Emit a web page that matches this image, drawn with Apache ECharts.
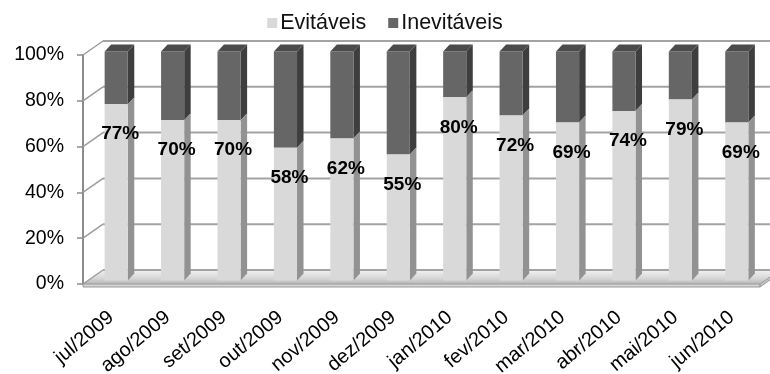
<!DOCTYPE html>
<html>
<head>
<meta charset="utf-8">
<script src="https://cdn.jsdelivr.net/npm/echarts@6/dist/echarts.min.js"></script>
<style>
  html, body { margin: 0; padding: 0; background: #ffffff; }
  #chart { width: 770px; height: 374px; }
</style>
</head>
<body>
<div id="chart"></div>
<script>
// Monthly share of avoidable vs. unavoidable cases (100% stacked)
const months = ['jul/2009', 'ago/2009', 'set/2009', 'out/2009', 'nov/2009', 'dez/2009',
                'jan/2010', 'fev/2010', 'mar/2010', 'abr/2010', 'mai/2010', 'jun/2010'];
const evitaveis = [77, 70, 70, 58, 62, 55, 80, 72, 69, 74, 79, 69];
const inevitaveis = [23, 30, 30, 42, 38, 45, 20, 28, 31, 26, 21, 31];
const yTicks = [0, 20, 40, 60, 80, 100];

// Pseudo-3D geometry (pixels)
const WALL_DX = 20, WALL_DY = -14;   // depth of the floor / back wall
const BAR_OX = 5, BAR_OY = -3.5;     // bar front face offset from the front plane
const BAR_DX = 6.5, BAR_DY = -7;     // bar depth
const BAR_RATIO = 0.41;              // bar width as share of category band

const FONT = '"Liberation Sans", Arial, sans-serif';

const chart = echarts.init(document.getElementById('chart'), null, { renderer: 'canvas' });

function wallItem(params, api) {
  const cs = params.coordSys;
  const v = api.value(1);
  const y = api.coord([0, v])[1];
  const left = cs.x, right = cs.x + cs.width;
  const children = [];
  if (v === 0) {
    // floor slab
    children.push({
      type: 'polygon',
      shape: { points: [[left, y], [right, y], [right + WALL_DX, y + WALL_DY], [left + WALL_DX, y + WALL_DY]] },
      style: {
        fill: new echarts.graphic.LinearGradient(0, 0, 0, 1, [
          { offset: 0, color: '#f2f2f2' },
          { offset: 0.6, color: '#d6d6d6' },
          { offset: 1, color: '#b8b8b8' }
        ])
      }
    });
    children.push({
      type: 'rect',
      shape: { x: left, y: y, width: right - left, height: 3 },
      style: { fill: '#d4d4d4', stroke: '#9a9a9a', lineWidth: 1 }
    });
    children.push({
      type: 'polygon',
      shape: { points: [[right, y], [right + WALL_DX, y + WALL_DY], [right + WALL_DX, y + WALL_DY + 3], [right, y + 3]] },
      style: { fill: '#c4c4c4', stroke: '#9a9a9a', lineWidth: 1 }
    });
  }
  children.push({
    type: 'line',
    shape: { x1: left, y1: y, x2: left + WALL_DX, y2: y + WALL_DY },
    style: { stroke: '#9c9c9c', lineWidth: 1.5 }
  });
  children.push({
    type: 'line',
    shape: { x1: left + WALL_DX, y1: y + WALL_DY, x2: right + WALL_DX + 20, y2: y + WALL_DY },
    style: { stroke: '#a3a3a3', lineWidth: 2 }
  });
  return { type: 'group', children: children };
}

function makeBarRenderer(front, side, top, withLabel, isTop) {
  return function (params, api) {
    const i = api.value(0);
    const base = api.value(1);
    const end = api.value(2);
    const band = api.size([1, 0])[0];
    const w = band * BAR_RATIO;
    const pb = api.coord([i, base]);
    const pt = api.coord([i, end]);
    const x0 = pb[0] - w / 2 + BAR_OX;
    const x1 = x0 + w;
    const yb = pb[1] + BAR_OY;
    const yt = pt[1] + BAR_OY;
    const children = [
      {
        type: 'polygon',
        shape: { points: [[x1, yb], [x1 + BAR_DX, yb + BAR_DY], [x1 + BAR_DX, yt + BAR_DY], [x1, yt]] },
        style: { fill: side }
      },
      {
        type: 'rect',
        shape: { x: x0, y: yt, width: w, height: yb - yt },
        style: { fill: front }
      }
    ];
    if (isTop) {
      children.push({
        type: 'polygon',
        shape: { points: [[x0, yt], [x0 + BAR_DX, yt + BAR_DY], [x1 + BAR_DX, yt + BAR_DY], [x1, yt]] },
        style: { fill: top }
      });
    }
    if (withLabel) {
      children.push({
        type: 'text',
        z2: 100,
        style: {
          x: (x0 + x1) / 2 + 4,
          y: yt + 30,
          text: (end - base) + '%',
          font: 'bold 19px ' + FONT,
          fill: '#000000',
          align: 'center',
          verticalAlign: 'middle'
        }
      });
    }
    return { type: 'group', children: children };
  };
}

const evitData = months.map((m, i) => [i, 0, evitaveis[i]]);
const inevData = months.map((m, i) => [i, evitaveis[i], evitaveis[i] + inevitaveis[i]]);

chart.setOption({
  animation: false,
  backgroundColor: '#ffffff',
  legend: {
    top: 7,
    left: 'center',
    icon: 'rect',
    itemWidth: 10,
    itemHeight: 10,
    itemGap: 22,
    data: ['Evitáveis', 'Inevitáveis'],
    textStyle: { fontFamily: FONT, fontSize: 21.5, color: '#111111', padding: [0, 0, 0, -2] }
  },
  grid: { left: 83, right: 10, top: 55, bottom: 90, containLabel: false, outerBoundsMode: 'none' },
  xAxis: {
    type: 'category',
    data: months,
    axisLine: { show: false },
    axisTick: { show: false },
    axisLabel: {
      rotate: 40,
      margin: 31,
      interval: 0,
      fontFamily: FONT,
      fontSize: 20,
      color: '#000000'
    }
  },
  yAxis: {
    type: 'value',
    min: 0,
    max: 100,
    interval: 20,
    axisLine: { show: true, lineStyle: { color: '#8c8c8c', width: 2 } },
    axisTick: { show: true, length: 6, lineStyle: { color: '#8c8c8c', width: 1.5 } },
    splitLine: { show: false },
    axisLabel: {
      margin: 19,
      fontFamily: FONT,
      fontSize: 19.5,
      color: '#000000',
      formatter: '{value}%'
    }
  },
  series: [
    {
      name: 'walls',
      type: 'custom',
      z: 1,
      silent: true,
      renderItem: wallItem,
      data: yTicks.map(v => [0, v]),
      encode: { x: 0, y: 1 }
    },
    {
      name: 'Evitáveis',
      type: 'custom',
      z: 3,
      itemStyle: { color: '#d9d9d9' },
      renderItem: makeBarRenderer('#d9d9d9', '#929292', '#cfcfcf', true, false),
      data: evitData,
      encode: { x: 0, y: [1, 2] }
    },
    {
      name: 'Inevitáveis',
      type: 'custom',
      z: 2,
      itemStyle: { color: '#666666' },
      renderItem: makeBarRenderer('#666666', '#3e3e3e', '#4b4b4b', false, true),
      data: inevData,
      encode: { x: 0, y: [1, 2] }
    }
  ]
});
</script>
</body>
</html>
